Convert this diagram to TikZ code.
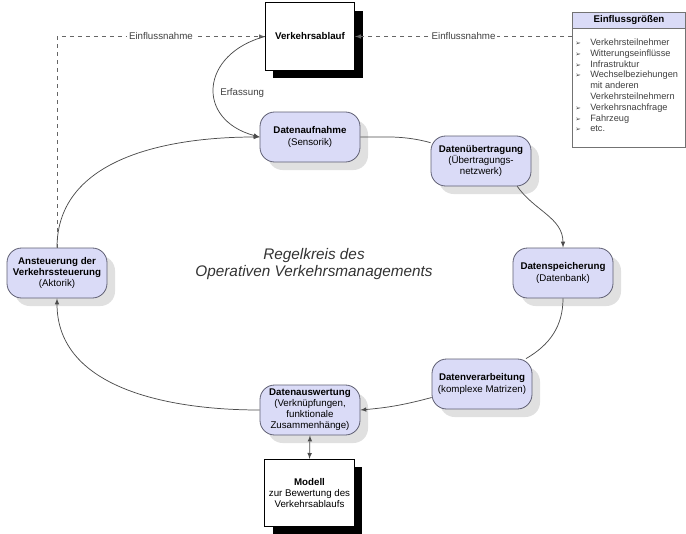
\documentclass[tikz,border=0pt]{standalone}
\usepackage{fontspec}
\setmainfont{Liberation Sans}
\newfontfamily\symfont{DejaVu Sans}
\usetikzlibrary{shadows, calc, shapes, positioning}

\definecolor{procfill}{RGB}{218,219,247}
\definecolor{procline}{RGB}{95,95,115}

\newcommand{\txtsize}{\fontsize{7.3}{8.3}\selectfont}
\newcommand{\infitem}[1]{\makebox[11.25pt][l]{\symfont\fontsize{5}{6}\selectfont ➢}#1}
\newcommand{\infcont}[1]{\hspace*{11.25pt}#1}

\tikzset{
  proc/.style={rectangle, rounded corners=11pt, draw=procline, line width=0.6pt,
    fill=procfill, minimum width=75pt, minimum height=37.5pt, inner sep=1pt,
    align=center, font=\txtsize,
    drop shadow={shadow xshift=6pt, shadow yshift=-6pt, fill=black!12, opacity=1}},
  block/.style={rectangle, draw=black, line width=0.6pt, fill=white,
    minimum width=67pt, minimum height=50.5pt, inner sep=1pt, align=center, font=\txtsize,
    drop shadow={shadow xshift=6pt, shadow yshift=-6pt, fill=black, opacity=1}},
  flow/.style={draw=black!70, line width=0.55pt},
  influence/.style={dashed, draw=black!60, line width=0.55pt, -latex},
  lbl/.style={font=\txtsize, text=black!75, inner sep=1.5pt}
}

\begin{document}
\begin{tikzpicture}[x=0.75pt, y=0.75pt]
  \useasboundingbox[fill=white] (0,0) rectangle (686,-533);

  % Titel
  \node[font=\itshape\fontsize{11.5}{12.9}\selectfont, text=black!80, align=center] (titel) at (314,-264)
    {Regelkreis des\\Operativen Verkehrsmanagements};

  % Bloecke
  \node[block] (verkehr) at (310,-36.5) {\textbf{Verkehrsablauf}};
  \node[block] (modell) at (309.5,-493) {\textbf{Modell}\\zur Bewertung des\\Verkehrsablaufs};

  % Regelkreis-Knoten
  \node[proc] (aufnahme) at (310,-137) {\textbf{Datenaufnahme}\\(Sensorik)};
  \node[proc] (uebertragung) at (481,-161) {\textbf{Datenübertragung}\\(Übertragungs-\\netzwerk)};
  \node[proc] (speicherung) at (563,-273) {\textbf{Datenspeicherung}\\(Datenbank)};
  \node[proc] (verarbeitung) at (482,-384) {\textbf{Datenverarbeitung}\\(komplexe Matrizen)};
  \node[proc] (auswertung) at (310,-410) {\textbf{Datenauswertung}\\(Verknüpfungen,\\funktionale\\Zusammenhänge)};
  \node[proc] (ansteuerung) at (57,-273) {\textbf{Ansteuerung der}\\\textbf{Verkehrssteuerung}\\(Aktorik)};

  % Einflussgroessen
  \node[rectangle, draw=black!55, line width=0.5pt, fill=white, minimum width=85pt,
    minimum height=101.25pt, anchor=north west] (einfluss) at (572,-12) {};
  \node[rectangle, draw=black!55, line width=0.5pt, fill=procfill, minimum width=85pt,
    minimum height=12pt, inner sep=0pt, anchor=north west, font=\txtsize] (einflusskopf) at (572,-12)
    {\textbf{Einflussgrößen}};
  \node[anchor=north west, inner sep=0pt, align=left, text=black!75,
    font=\fontsize{6.9}{8.1}\selectfont] (einflussliste) at (575,-38.5)
    {\infitem{Verkehrsteilnehmer}\\
     \infitem{Witterungseinflüsse}\\
     \infitem{Infrastruktur}\\
     \infitem{Wechselbeziehungen}\\
     \infcont{mit anderen}\\
     \infcont{Verkehrsteilnehmern}\\
     \infitem{Verkehrsnachfrage}\\
     \infitem{Fahrzeug}\\
     \infitem{etc.}};

  % Einflussnahme
  \draw[influence] (einfluss.west |- verkehr.east) -- node[lbl, fill=white] {Einflussnahme} (verkehr.east);
  \draw[influence] (ansteuerung.north) |- node[lbl, fill=white, pos=0.75] {Einflussnahme} (verkehr.west);

  % Regelkreis
  \draw[flow, -latex] (verkehr.west) to[out=195, in=165, looseness=1.7]
    node[lbl, pos=0.55, right=3pt] {Erfassung} (aufnahme.west);
  \draw[flow, -latex] (ansteuerung.north) to[out=90, in=180] (aufnahme.west);
  \draw[flow] (aufnahme.east) to[out=0, in=165] (uebertragung.160);
  \draw[flow, -latex] (uebertragung.-35) to[out=-55, in=90] (speicherung.north);
  \draw[flow] (speicherung.south) to[out=-90, in=30] (verarbeitung.30);
  \draw[flow, -latex] (verarbeitung.195) to[out=195, in=5] (auswertung.east);
  \draw[flow, -latex] (auswertung.west) to[out=180, in=-90] (ansteuerung.south);
  \draw[flow, latex-latex] (auswertung.south) -- (modell.north);
\end{tikzpicture}
\end{document}
